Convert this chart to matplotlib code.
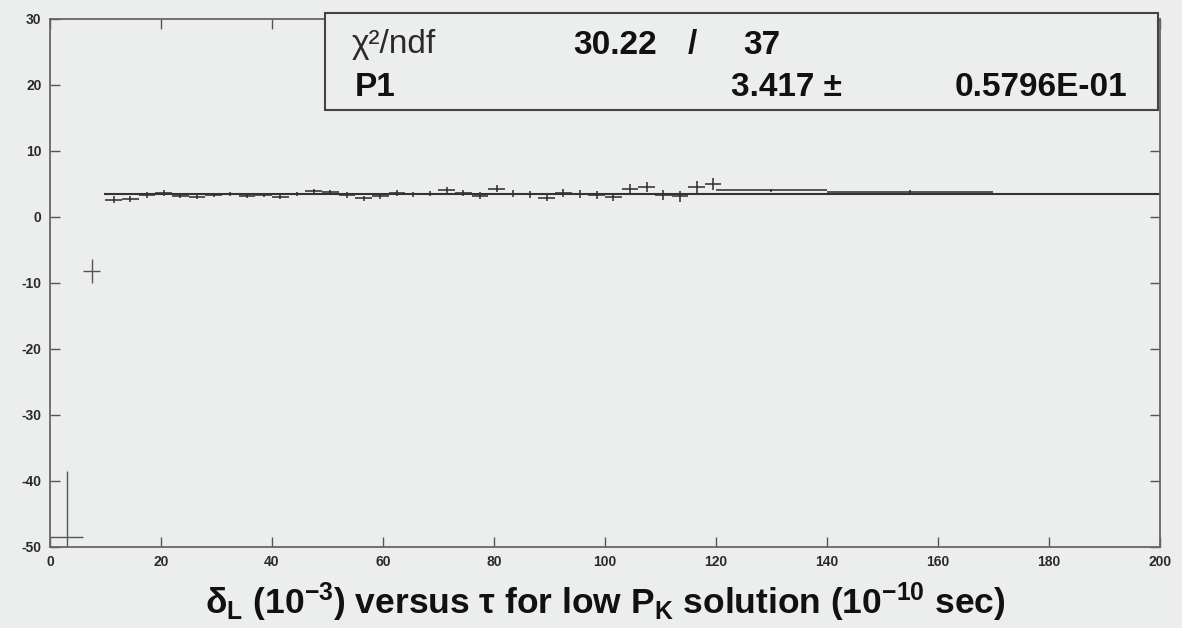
#delta_L versus tau, low P_K solution

import numpy as np
import matplotlib.pyplot as plt
from matplotlib.patches import Rectangle

plt.rcParams['font.family'] = ['Liberation Sans', 'DejaVu Sans']
plt.rcParams['mathtext.fontset'] = 'custom'
plt.rcParams['mathtext.rm'] = 'Liberation Sans:bold'
plt.rcParams['mathtext.it'] = 'Liberation Sans:bold'
plt.rcParams['mathtext.bf'] = 'Liberation Sans:bold'
plt.rcParams['mathtext.default'] = 'rm'
plt.rcParams['axes.unicode_minus'] = False

#binned points (tau in 1e-10 s, delta_L in 1e-3)
tau = [11.5, 14.5, 17.5, 20.5, 23.5, 26.5, 29.5, 32.5, 35.5, 38.5,
       41.5, 44.5, 47.5, 50.5, 53.5, 56.5, 59.5, 62.5, 65.5, 68.5,
       71.5, 74.5, 77.5, 80.5, 83.5, 86.5, 89.5, 92.5, 95.5, 98.5,
       101.5, 104.5, 107.5, 110.5, 113.5, 116.5, 119.5, 130.0, 155.0]
tau_err = [1.5] * 37 + [10.0, 15.0]
delta = [2.6, 2.7, 3.3, 3.6, 3.2, 3.0, 3.3, 3.4, 3.1, 3.3,
         3.0, 3.5, 3.9, 3.7, 3.3, 2.8, 3.1, 3.6, 3.4, 3.5,
         4.1, 3.6, 3.2, 4.3, 3.5, 3.4, 2.9, 3.6, 3.5, 3.3,
         3.0, 4.3, 4.5, 3.3, 3.1, 4.5, 5.0, 4.0, 3.7]
delta_err = [0.5, 0.5, 0.4, 0.4, 0.3, 0.3, 0.3, 0.3, 0.3, 0.3,
             0.3, 0.3, 0.4, 0.4, 0.4, 0.4, 0.4, 0.4, 0.4, 0.4,
             0.5, 0.5, 0.5, 0.6, 0.5, 0.5, 0.5, 0.6, 0.6, 0.6,
             0.6, 0.7, 0.8, 0.7, 0.8, 0.9, 0.9, 0.3, 0.3]

#points below the fit range
tau_low = [3.0, 7.5]
tau_low_err = [3.0, 1.5]
delta_low = [-48.5, -8.2]
delta_low_err = [10.0, 1.8]

#fit result
p1 = "3.417"
p1_err = "0.5796E-01"
chi2 = "30.22"
ndf = "37"
fit_value = 3.417
fit_range = [10, 200]

bg = '#eceeee'
ink = '#2a2a2a'

fig = plt.figure(figsize=(11.82, 6.28), dpi=100, facecolor=bg)
ax = fig.add_axes([0.0423, 0.129, 0.9390, 0.841], facecolor=bg)

ax.errorbar(tau, delta, xerr=tau_err, yerr=delta_err, fmt='none',
            ecolor=ink, elinewidth=1.1, capsize=0)
ax.errorbar(tau_low, delta_low, xerr=tau_low_err, yerr=delta_low_err,
            fmt='none', ecolor='#555555', elinewidth=1.0, capsize=0)
ax.plot(fit_range, [fit_value, fit_value], color='#333333', lw=1.5)

ax.set_xlim(0, 200)
ax.set_ylim(-50, 30)
ax.set_xticks(np.arange(0, 201, 20))
ax.set_yticks(np.arange(-50, 31, 10))
ax.tick_params(direction='in', length=7, width=1.0, color='#555555',
               top=True, right=True, labelsize=10, labelcolor=ink, pad=6)
for lab in ax.get_xticklabels() + ax.get_yticklabels():
    lab.set_fontweight('bold')
for s in ax.spines.values():
    s.set_color('#666666')
    s.set_linewidth(1.3)

ax.set_xlabel("\u03b4$_{L}$ (10$^{-3}$) versus \u03c4 for low P$_{K}$ solution (10$^{-10}$ sec)",
              fontsize=25.5, fontweight='bold', color='#111111', labelpad=8)

#stats box
W, H = 1182, 628
fig.patches.append(Rectangle((325 / W, 1 - 110 / H), 833 / W, 97 / H,
                             transform=fig.transFigure, facecolor=bg,
                             edgecolor='#444444', lw=1.5, zorder=5))
y1 = 1 - 45 / H
y2 = 1 - 88 / H
fig.text(352 / W, y1, "\u03c7\u00b2/ndf", fontsize=24, va='center',
         color=ink, zorder=6, fontweight='normal')
fig.text(657 / W, y1, chi2, fontsize=24, fontweight='bold',
         va='center', ha='right', color='#111111', zorder=6)
fig.text(692 / W, y1, "/", fontsize=24, fontweight='bold', va='center',
         ha='center', color='#111111', zorder=6)
fig.text(762 / W, y1, ndf, fontsize=24, fontweight='bold', va='center',
         ha='center', color='#111111', zorder=6)
fig.text(355 / W, y2, "P1", fontsize=24, fontweight='bold', va='center',
         color='#111111', zorder=6)
fig.text(842 / W, y2, p1 + " \u00b1", fontsize=24, fontweight='bold',
         va='center', ha='right', color='#111111', zorder=6)
fig.text(1127 / W, y2, p1_err, fontsize=24, fontweight='bold',
         va='center', ha='right', color='#111111', zorder=6)

plt.savefig("out.png", dpi=100, facecolor=bg)
